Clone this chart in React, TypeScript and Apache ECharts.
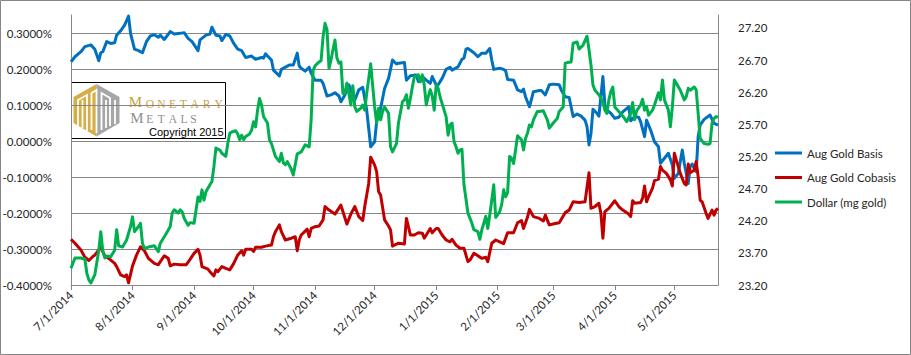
import React, { useEffect, useRef } from 'react';
import * as echarts from 'echarts';

const seriesNames = ['Aug Gold Basis', 'Aug Gold Cobasis', 'Dollar (mg gold)'];
const seriesColors = ['#0070C0', '#C00000', '#00B050'];
const leftAxis = { min: -0.4, max: 0.35, step: 0.1, lastLabel: 0.3 };
const rightAxis = { min: 23.2, max: 27.4, step: 0.5, lastLabel: 27.2 };
const monthTicks = ['2014-07-01', '2014-08-01', '2014-09-01', '2014-10-01', '2014-11-01', '2014-12-01',
  '2015-01-01', '2015-02-01', '2015-03-01', '2015-04-01', '2015-05-01'];
const xRange = ['2014-07-01', '2015-05-23'];

// Aug Gold Basis (%)
const basis: [string, number][] = [
  ['2014-07-01', 0.220], ['2014-07-03', 0.234], ['2014-07-06', 0.248], ['2014-07-08', 0.262], ['2014-07-11', 0.267],
  ['2014-07-13', 0.255], ['2014-07-15', 0.223], ['2014-07-16', 0.245], ['2014-07-17', 0.248], ['2014-07-19', 0.276],
  ['2014-07-21', 0.271], ['2014-07-23', 0.273], ['2014-07-24', 0.294], ['2014-07-26', 0.306], ['2014-07-28', 0.322],
  ['2014-07-30', 0.347], ['2014-07-31', 0.299], ['2014-08-02', 0.255], ['2014-08-04', 0.251], ['2014-08-06', 0.245],
  ['2014-08-08', 0.276], ['2014-08-10', 0.292], ['2014-08-12', 0.295], ['2014-08-14', 0.288], ['2014-08-15', 0.294],
  ['2014-08-17', 0.282], ['2014-08-20', 0.304], ['2014-08-22', 0.297], ['2014-08-25', 0.299], ['2014-08-27', 0.301],
  ['2014-08-29', 0.285], ['2014-08-31', 0.276], ['2014-09-03', 0.251], ['2014-09-04', 0.281], ['2014-09-07', 0.294],
  ['2014-09-09', 0.297], ['2014-09-10', 0.316], ['2014-09-12', 0.294], ['2014-09-14', 0.292], ['2014-09-15', 0.279],
  ['2014-09-17', 0.296], ['2014-09-19', 0.292], ['2014-09-21', 0.271], ['2014-09-23', 0.255], ['2014-09-25', 0.251],
  ['2014-09-27', 0.232], ['2014-09-30', 0.236], ['2014-10-02', 0.227], ['2014-10-05', 0.232], ['2014-10-06', 0.230],
  ['2014-10-07', 0.242], ['2014-10-10', 0.225], ['2014-10-11', 0.197], ['2014-10-14', 0.181], ['2014-10-15', 0.199],
  ['2014-10-18', 0.208], ['2014-10-19', 0.211], ['2014-10-21', 0.211], ['2014-10-23', 0.244], ['2014-10-24', 0.208],
  ['2014-10-25', 0.202], ['2014-10-27', 0.194], ['2014-10-29', 0.205], ['2014-10-30', 0.188], ['2014-11-01', 0.169],
  ['2014-11-04', 0.169], ['2014-11-05', 0.160], ['2014-11-07', 0.125], ['2014-11-09', 0.128], ['2014-11-11', 0.134],
  ['2014-11-13', 0.125], ['2014-11-14', 0.109], ['2014-11-16', 0.128], ['2014-11-18', 0.156], ['2014-11-20', 0.125],
  ['2014-11-21', 0.114], ['2014-11-23', 0.142], ['2014-11-25', 0.149], ['2014-11-27', 0.086], ['2014-11-29', -0.016],
  ['2014-12-01', -0.002], ['2014-12-02', 0.054], ['2014-12-04', 0.091], ['2014-12-06', 0.146], ['2014-12-08', 0.174],
  ['2014-12-10', 0.225], ['2014-12-12', 0.214], ['2014-12-13', 0.216], ['2014-12-16', 0.218], ['2014-12-17', 0.169],
  ['2014-12-19', 0.181], ['2014-12-21', 0.183], ['2014-12-22', 0.183], ['2014-12-23', 0.165], ['2014-12-25', 0.179],
  ['2014-12-27', 0.169], ['2014-12-29', 0.160], ['2014-12-30', 0.179], ['2015-01-01', 0.156], ['2015-01-02', 0.156],
  ['2015-01-04', 0.174], ['2015-01-06', 0.199], ['2015-01-08', 0.205], ['2015-01-09', 0.197], ['2015-01-12', 0.206],
  ['2015-01-14', 0.227], ['2015-01-15', 0.230], ['2015-01-16', 0.255], ['2015-01-17', 0.257], ['2015-01-20', 0.245],
  ['2015-01-22', 0.234], ['2015-01-24', 0.244], ['2015-01-26', 0.244], ['2015-01-28', 0.257], ['2015-01-29', 0.225],
  ['2015-01-30', 0.199], ['2015-02-02', 0.202], ['2015-02-04', 0.199], ['2015-02-05', 0.195], ['2015-02-06', 0.171],
  ['2015-02-09', 0.169], ['2015-02-11', 0.142], ['2015-02-13', 0.137], ['2015-02-14', 0.144], ['2015-02-15', 0.123],
  ['2015-02-17', 0.095], ['2015-02-19', 0.137], ['2015-02-22', 0.140], ['2015-02-23', 0.140], ['2015-02-25', 0.128],
  ['2015-02-27', 0.156], ['2015-03-01', 0.158], ['2015-03-04', 0.156], ['2015-03-05', 0.142], ['2015-03-07', 0.123],
  ['2015-03-09', 0.121], ['2015-03-11', 0.068], ['2015-03-13', 0.075], ['2015-03-15', 0.069], ['2015-03-17', 0.058],
  ['2015-03-18', 0.040], ['2015-03-19', -0.011], ['2015-03-20', 0.021], ['2015-03-21', 0.088], ['2015-03-23', 0.077],
  ['2015-03-24', 0.069], ['2015-03-26', 0.179], ['2015-03-27', 0.100], ['2015-03-28', 0.086], ['2015-03-30', 0.077],
  ['2015-04-01', 0.063], ['2015-04-03', 0.066], ['2015-04-05', 0.081], ['2015-04-08', 0.095], ['2015-04-09', 0.056],
  ['2015-04-11', 0.067], ['2015-04-13', 0.066], ['2015-04-14', 0.054], ['2015-04-16', 0.012], ['2015-04-17', 0.058],
  ['2015-04-19', 0.031], ['2015-04-21', -0.002], ['2015-04-23', -0.016], ['2015-04-24', -0.062], ['2015-04-26', -0.048],
  ['2015-04-28', -0.034], ['2015-04-30', -0.067], ['2015-05-01', -0.104], ['2015-05-03', -0.090], ['2015-05-04', -0.057],
  ['2015-05-05', -0.025], ['2015-05-06', -0.062], ['2015-05-08', -0.118], ['2015-05-09', -0.071], ['2015-05-10', -0.064],
  ['2015-05-11', -0.076], ['2015-05-12', -0.085], ['2015-05-13', 0.012], ['2015-05-14', 0.044], ['2015-05-16', 0.060],
  ['2015-05-19', 0.072], ['2015-05-21', 0.049], ['2015-05-23', 0.044],
];

// Aug Gold Cobasis (%)
const cobasis: [string, number][] = [
  ['2014-07-01', -0.273], ['2014-07-03', -0.284], ['2014-07-06', -0.303], ['2014-07-08', -0.323], ['2014-07-10', -0.332],
  ['2014-07-12', -0.321], ['2014-07-13', -0.317], ['2014-07-16', -0.295], ['2014-07-18', -0.319], ['2014-07-20', -0.326],
  ['2014-07-23', -0.340], ['2014-07-24', -0.349], ['2014-07-26', -0.372], ['2014-07-28', -0.377], ['2014-07-29', -0.372],
  ['2014-07-30', -0.394], ['2014-08-01', -0.347], ['2014-08-03', -0.317], ['2014-08-05', -0.294], ['2014-08-07', -0.305],
  ['2014-08-09', -0.326], ['2014-08-12', -0.340], ['2014-08-14', -0.344], ['2014-08-15', -0.335], ['2014-08-17', -0.319],
  ['2014-08-19', -0.326], ['2014-08-20', -0.347], ['2014-08-22', -0.342], ['2014-08-25', -0.344], ['2014-08-28', -0.344],
  ['2014-08-30', -0.329], ['2014-09-01', -0.312], ['2014-09-03', -0.301], ['2014-09-04', -0.317], ['2014-09-05', -0.349],
  ['2014-09-08', -0.356], ['2014-09-09', -0.363], ['2014-09-11', -0.375], ['2014-09-12', -0.358], ['2014-09-13', -0.363],
  ['2014-09-15', -0.349], ['2014-09-17', -0.354], ['2014-09-19', -0.358], ['2014-09-21', -0.340], ['2014-09-23', -0.317],
  ['2014-09-25', -0.305], ['2014-09-26', -0.317], ['2014-09-27', -0.301], ['2014-09-30', -0.301], ['2014-10-01', -0.307],
  ['2014-10-02', -0.295], ['2014-10-05', -0.295], ['2014-10-07', -0.292], ['2014-10-10', -0.289], ['2014-10-11', -0.266],
  ['2014-10-12', -0.252], ['2014-10-14', -0.233], ['2014-10-15', -0.252], ['2014-10-17', -0.275], ['2014-10-20', -0.270],
  ['2014-10-22', -0.266], ['2014-10-23', -0.305], ['2014-10-24', -0.275], ['2014-10-25', -0.261], ['2014-10-28', -0.245],
  ['2014-10-29', -0.266], ['2014-10-30', -0.243], ['2014-11-01', -0.238], ['2014-11-03', -0.236], ['2014-11-05', -0.219],
  ['2014-11-06', -0.182], ['2014-11-08', -0.192], ['2014-11-11', -0.203], ['2014-11-14', -0.178], ['2014-11-15', -0.196],
  ['2014-11-17', -0.231], ['2014-11-19', -0.203], ['2014-11-21', -0.182], ['2014-11-23', -0.210], ['2014-11-25', -0.221],
  ['2014-11-26', -0.182], ['2014-11-28', -0.118], ['2014-11-29', -0.045], ['2014-12-01', -0.067], ['2014-12-02', -0.085],
  ['2014-12-03', -0.141], ['2014-12-04', -0.150], ['2014-12-06', -0.219], ['2014-12-08', -0.236], ['2014-12-09', -0.247],
  ['2014-12-10', -0.292], ['2014-12-11', -0.289], ['2014-12-13', -0.284], ['2014-12-16', -0.286], ['2014-12-17', -0.215],
  ['2014-12-19', -0.261], ['2014-12-21', -0.261], ['2014-12-23', -0.255], ['2014-12-25', -0.256], ['2014-12-26', -0.270],
  ['2014-12-29', -0.243], ['2014-12-30', -0.255], ['2015-01-01', -0.243], ['2015-01-02', -0.243], ['2015-01-04', -0.261],
  ['2015-01-06', -0.275], ['2015-01-08', -0.280], ['2015-01-09', -0.273], ['2015-01-11', -0.289], ['2015-01-13', -0.298],
  ['2015-01-15', -0.298], ['2015-01-17', -0.335], ['2015-01-18', -0.331], ['2015-01-20', -0.312], ['2015-01-22', -0.319],
  ['2015-01-24', -0.326], ['2015-01-26', -0.323], ['2015-01-27', -0.335], ['2015-01-29', -0.284], ['2015-01-31', -0.275],
  ['2015-02-02', -0.280], ['2015-02-04', -0.285], ['2015-02-06', -0.255], ['2015-02-09', -0.255], ['2015-02-11', -0.227],
  ['2015-02-13', -0.221], ['2015-02-14', -0.243], ['2015-02-16', -0.212], ['2015-02-17', -0.190], ['2015-02-19', -0.210],
  ['2015-02-22', -0.215], ['2015-02-24', -0.222], ['2015-02-25', -0.206], ['2015-02-27', -0.233], ['2015-03-02', -0.229],
  ['2015-03-04', -0.227], ['2015-03-07', -0.199], ['2015-03-09', -0.192], ['2015-03-11', -0.169], ['2015-03-14', -0.171],
  ['2015-03-17', -0.169], ['2015-03-19', -0.088], ['2015-03-20', -0.187], ['2015-03-22', -0.182], ['2015-03-24', -0.173],
  ['2015-03-25', -0.201], ['2015-03-26', -0.270], ['2015-03-27', -0.196], ['2015-03-29', -0.187], ['2015-03-31', -0.173],
  ['2015-04-01', -0.166], ['2015-04-03', -0.182], ['2015-04-05', -0.192], ['2015-04-08', -0.203], ['2015-04-09', -0.210],
  ['2015-04-10', -0.166], ['2015-04-11', -0.173], ['2015-04-14', -0.171], ['2015-04-15', -0.159], ['2015-04-16', -0.125],
  ['2015-04-17', -0.169], ['2015-04-18', -0.155], ['2015-04-20', -0.131], ['2015-04-21', -0.110], ['2015-04-23', -0.106],
  ['2015-04-24', -0.071], ['2015-04-25', -0.081], ['2015-04-27', -0.090], ['2015-04-29', -0.108], ['2015-04-30', -0.125],
  ['2015-05-01', -0.034], ['2015-05-02', -0.053], ['2015-05-04', -0.090], ['2015-05-06', -0.118], ['2015-05-07', -0.122],
  ['2015-05-08', -0.064], ['2015-05-09', -0.088], ['2015-05-11', -0.081], ['2015-05-12', -0.057], ['2015-05-13', -0.099],
  ['2015-05-14', -0.164], ['2015-05-15', -0.169], ['2015-05-17', -0.201], ['2015-05-18', -0.215], ['2015-05-20', -0.192],
  ['2015-05-21', -0.206], ['2015-05-22', -0.192], ['2015-05-23', -0.187],
];

// Dollar (mg gold), right axis
const dollar: [string, number][] = [
  ['2014-07-01', 23.46], ['2014-07-03', 23.62], ['2014-07-06', 23.62], ['2014-07-08', 23.60], ['2014-07-09', 23.38],
  ['2014-07-10', 23.28], ['2014-07-11', 23.23], ['2014-07-13', 23.36], ['2014-07-15', 23.74], ['2014-07-16', 24.03],
  ['2014-07-17', 23.74], ['2014-07-18', 23.62], ['2014-07-19', 23.65], ['2014-07-21', 23.64], ['2014-07-23', 23.74],
  ['2014-07-24', 24.06], ['2014-07-25', 23.81], ['2014-07-27', 23.79], ['2014-07-29', 23.90], ['2014-07-31', 24.11],
  ['2014-08-01', 24.26], ['2014-08-02', 24.03], ['2014-08-04', 24.11], ['2014-08-05', 24.16], ['2014-08-06', 23.85],
  ['2014-08-07', 23.77], ['2014-08-09', 23.79], ['2014-08-12', 23.81], ['2014-08-14', 23.72], ['2014-08-15', 23.85],
  ['2014-08-18', 24.00], ['2014-08-20', 24.11], ['2014-08-21', 24.32], ['2014-08-22', 24.37], ['2014-08-24', 24.32],
  ['2014-08-25', 24.37], ['2014-08-26', 24.34], ['2014-08-27', 24.24], ['2014-08-29', 24.13], ['2014-08-30', 24.17],
  ['2014-09-01', 24.16], ['2014-09-03', 24.57], ['2014-09-04', 24.50], ['2014-09-05', 24.68], ['2014-09-06', 24.52],
  ['2014-09-07', 24.65], ['2014-09-09', 24.76], ['2014-09-10', 24.81], ['2014-09-11', 25.04], ['2014-09-12', 25.33],
  ['2014-09-14', 25.30], ['2014-09-15', 25.25], ['2014-09-17', 25.20], ['2014-09-18', 25.40], ['2014-09-19', 25.56],
  ['2014-09-20', 25.58], ['2014-09-22', 25.60], ['2014-09-23', 25.55], ['2014-09-24', 25.46], ['2014-09-25', 25.53],
  ['2014-09-26', 25.46], ['2014-09-27', 25.51], ['2014-09-29', 25.55], ['2014-09-30', 25.61], ['2014-10-01', 25.74],
  ['2014-10-02', 25.66], ['2014-10-03', 25.92], ['2014-10-04', 26.10], ['2014-10-05', 26.00], ['2014-10-06', 25.82],
  ['2014-10-08', 25.72], ['2014-10-09', 25.46], ['2014-10-10', 25.40], ['2014-10-12', 25.20], ['2014-10-14', 25.12],
  ['2014-10-15', 25.25], ['2014-10-16', 25.10], ['2014-10-17', 25.07], ['2014-10-18', 25.12], ['2014-10-20', 25.00],
  ['2014-10-21', 24.91], ['2014-10-23', 25.24], ['2014-10-25', 25.27], ['2014-10-27', 25.38], ['2014-10-29', 25.35],
  ['2014-10-30', 25.77], ['2014-10-31', 26.54], ['2014-11-01', 26.61], ['2014-11-03', 26.67], ['2014-11-04', 26.69],
  ['2014-11-05', 27.06], ['2014-11-06', 27.27], ['2014-11-07', 27.17], ['2014-11-08', 26.57], ['2014-11-09', 26.70],
  ['2014-11-10', 26.86], ['2014-11-11', 27.01], ['2014-11-12', 26.73], ['2014-11-13', 26.65], ['2014-11-14', 26.67],
  ['2014-11-15', 26.18], ['2014-11-16', 26.18], ['2014-11-17', 26.34], ['2014-11-18', 26.18], ['2014-11-19', 26.00],
  ['2014-11-20', 26.30], ['2014-11-21', 25.97], ['2014-11-22', 25.90], ['2014-11-24', 25.95], ['2014-11-25', 26.00],
  ['2014-11-26', 25.92], ['2014-11-27', 26.18], ['2014-11-29', 26.64], ['2014-11-30', 26.30], ['2014-12-01', 25.97],
  ['2014-12-02', 25.72], ['2014-12-03', 25.95], ['2014-12-04', 25.77], ['2014-12-05', 25.90], ['2014-12-06', 25.97],
  ['2014-12-08', 25.87], ['2014-12-09', 25.35], ['2014-12-10', 25.27], ['2014-12-12', 25.40], ['2014-12-13', 25.72],
  ['2014-12-15', 26.05], ['2014-12-16', 26.08], ['2014-12-17', 26.16], ['2014-12-18', 25.95], ['2014-12-19', 26.10],
  ['2014-12-20', 26.28], ['2014-12-21', 26.44], ['2014-12-23', 26.47], ['2014-12-24', 26.36], ['2014-12-25', 26.47],
  ['2014-12-26', 26.31], ['2014-12-27', 26.00], ['2014-12-28', 26.13], ['2014-12-29', 26.24], ['2014-12-30', 26.14],
  ['2014-12-31', 25.92], ['2015-01-01', 26.31], ['2015-01-02', 26.26], ['2015-01-03', 26.12], ['2015-01-05', 25.92],
  ['2015-01-06', 25.82], ['2015-01-07', 25.53], ['2015-01-08', 25.69], ['2015-01-09', 25.72], ['2015-01-10', 25.43],
  ['2015-01-11', 25.35], ['2015-01-12', 25.25], ['2015-01-13', 25.30], ['2015-01-14', 25.31], ['2015-01-15', 24.76],
  ['2015-01-17', 24.32], ['2015-01-18', 24.24], ['2015-01-19', 24.16], ['2015-01-20', 24.06], ['2015-01-22', 24.03],
  ['2015-01-23', 23.91], ['2015-01-24', 24.06], ['2015-01-25', 24.16], ['2015-01-26', 24.27], ['2015-01-27', 24.08],
  ['2015-01-28', 24.29], ['2015-01-29', 24.52], ['2015-01-30', 24.76], ['2015-01-31', 24.25], ['2015-02-02', 24.34],
  ['2015-02-03', 24.45], ['2015-02-04', 24.68], ['2015-02-05', 24.57], ['2015-02-06', 24.64], ['2015-02-07', 25.20],
  ['2015-02-08', 25.17], ['2015-02-09', 25.09], ['2015-02-10', 25.30], ['2015-02-11', 25.52], ['2015-02-13', 25.46],
  ['2015-02-14', 25.30], ['2015-02-15', 25.48], ['2015-02-16', 25.56], ['2015-02-17', 25.69], ['2015-02-18', 25.66],
  ['2015-02-19', 25.77], ['2015-02-21', 25.90], ['2015-02-22', 25.90], ['2015-02-24', 25.91], ['2015-02-26', 25.77],
  ['2015-02-27', 25.64], ['2015-03-01', 25.72], ['2015-03-03', 25.79], ['2015-03-04', 25.90], ['2015-03-06', 25.97],
  ['2015-03-07', 26.65], ['2015-03-08', 26.66], ['2015-03-10', 26.67], ['2015-03-11', 26.96], ['2015-03-13', 26.98],
  ['2015-03-14', 26.87], ['2015-03-15', 26.90], ['2015-03-16', 26.93], ['2015-03-18', 27.07], ['2015-03-19', 26.86],
  ['2015-03-20', 26.62], ['2015-03-21', 26.31], ['2015-03-22', 26.23], ['2015-03-24', 26.16], ['2015-03-26', 26.05],
  ['2015-03-27', 25.92], ['2015-03-28', 25.87], ['2015-03-29', 26.08], ['2015-03-30', 26.21], ['2015-03-31', 26.28],
  ['2015-04-01', 25.97], ['2015-04-03', 25.90], ['2015-04-05', 25.83], ['2015-04-07', 25.74], ['2015-04-09', 25.87],
  ['2015-04-10', 26.04], ['2015-04-11', 25.77], ['2015-04-12', 25.91], ['2015-04-14', 26.00], ['2015-04-15', 26.09],
  ['2015-04-16', 25.92], ['2015-04-17', 25.98], ['2015-04-18', 25.84], ['2015-04-20', 25.92], ['2015-04-21', 26.00],
  ['2015-04-23', 26.19], ['2015-04-24', 26.08], ['2015-04-25', 26.39], ['2015-04-26', 26.08], ['2015-04-28', 25.92],
  ['2015-04-29', 25.66], ['2015-04-30', 25.97], ['2015-05-01', 26.39], ['2015-05-02', 26.34], ['2015-05-04', 26.23],
  ['2015-05-06', 26.08], ['2015-05-07', 26.13], ['2015-05-08', 26.26], ['2015-05-09', 26.23], ['2015-05-11', 26.28],
  ['2015-05-12', 26.24], ['2015-05-13', 25.87], ['2015-05-14', 25.48], ['2015-05-16', 25.40], ['2015-05-18', 25.39],
  ['2015-05-19', 25.40], ['2015-05-20', 25.72], ['2015-05-21', 25.79], ['2015-05-22', 25.82], ['2015-05-23', 25.81],
];

const logoLine1 = 'MONETARY';
const logoLine2 = 'METALS';
const copyrightText = 'Copyright 2015';

const ts = (s: string) => {
  const [y, m, d] = s.split('-').map(Number);
  return new Date(y, m - 1, d).getTime();
};
const fmtDate = (v: number) => {
  const d = new Date(v);
  return `${d.getMonth() + 1}/${d.getDate()}/${d.getFullYear()}`;
};

const FONT = 'Lato, "Open Sans", sans-serif';
const AXIS_GRAY = '#878787';
const TEXT = '#262626';

function smallCaps(word: string, centers: number[], baseline: number, color: string) {
  return word.split('').map((ch, i) => {
    const size = i === 0 ? 15 : 11.5;
    return {
      type: 'text',
      x: centers[i],
      y: baseline - size * 0.34,
      style: {
        text: ch,
        fill: color,
        font: `${size}px "Liberation Serif", "DejaVu Serif", serif`,
        align: 'center',
        verticalAlign: 'middle',
        lineHeight: 10,
      },
    };
  });
}

export default function App() {
  const ref = useRef<HTMLDivElement>(null);
  useEffect(() => {
    if (!ref.current) return;
    const chart = echarts.init(ref.current, undefined, { renderer: 'svg' });
    const gold = '#D5AE45';
    const grey = '#A6A6A6';
    const monthValues = monthTicks.map(ts);
    const option: any = {
      animation: false,
      backgroundColor: '#ffffff',
      grid: { left: 71, top: 15, width: 647, height: 270, outerBoundsMode: 'none' },
      legend: {
        orient: 'vertical',
        left: 770,
        top: 142,
        icon: 'rect',
        itemWidth: 27,
        itemHeight: 3,
        itemGap: 12.5,
        data: seriesNames,
        textStyle: { fontFamily: FONT, fontSize: 11.5, color: TEXT },
      },
      xAxis: {
        type: 'value',
        min: ts(xRange[0]),
        max: ts(xRange[1]),
        axisLine: { show: true, onZero: false, lineStyle: { color: AXIS_GRAY, width: 1 } },
        axisTick: { show: true, length: 5, lineStyle: { color: AXIS_GRAY }, customValues: monthValues },
        axisLabel: {
          customValues: monthValues,
          formatter: (v: number) => fmtDate(v),
          rotate: 45,
          margin: 8,
          fontFamily: FONT,
          fontSize: 11.5,
          color: TEXT,
          hideOverlap: false,
        },
        splitLine: { show: false },
      },
      yAxis: [
        {
          type: 'value',
          min: leftAxis.min,
          max: leftAxis.max,
          interval: leftAxis.step,
          axisLine: { show: true, lineStyle: { color: AXIS_GRAY, width: 1 } },
          axisTick: { show: false },
          axisLabel: {
            formatter: (v: number) => (v > leftAxis.lastLabel + 1e-6 ? '' : v.toFixed(4) + '%'),
            margin: 12,
            padding: [0, 7, 0, 0],
            fontFamily: FONT,
            fontSize: 11.5,
            color: TEXT,
            showMaxLabel: false,
          },
          splitLine: { show: true, showMaxLine: false, lineStyle: { color: AXIS_GRAY, width: 1 } },
        },
        {
          type: 'value',
          min: rightAxis.min,
          max: rightAxis.max,
          interval: rightAxis.step,
          position: 'right',
          axisLine: { show: true, lineStyle: { color: AXIS_GRAY, width: 1 } },
          axisTick: { show: false },
          axisLabel: {
            formatter: (v: number) => (v > rightAxis.lastLabel + 1e-6 ? '' : v.toFixed(2)),
            margin: 12,
            padding: [0, 0, 0, 8],
            fontFamily: FONT,
            fontSize: 11.5,
            color: TEXT,
            showMaxLabel: false,
          },
          splitLine: { show: false },
        },
      ],
      series: [basis, cobasis, dollar].map((data, i) => ({
        name: seriesNames[i],
        type: 'line',
        yAxisIndex: i === 2 ? 1 : 0,
        data: data.map(([d, v]) => [ts(d), v]),
        symbol: 'none',
        showSymbol: false,
        color: seriesColors[i],
        lineStyle: { color: seriesColors[i], width: 3, join: 'round' },
        z: 2 + i,
      })),
      graphic: [
        {
          type: 'rect',
          shape: { x: 0.5, y: 0.5, width: 910, height: 354 },
          style: { fill: 'none', stroke: '#868686', lineWidth: 1 },
          silent: true,
        },
        {
          type: 'group',
          z: 100,
          children: [
            {
              type: 'rect',
              shape: { x: 71.5, y: 82.5, width: 154, height: 56 },
              style: { fill: '#ffffff', stroke: '#000000', lineWidth: 1 },
            },
            {
              type: 'polygon',
              shape: { points: [[96.5, 84], [73.5, 97], [73.5, 123], [96.5, 136.5]] },
              style: { fill: gold },
            },
            {
              type: 'polygon',
              shape: { points: [[96.5, 84], [119.5, 97], [119.5, 123], [96.5, 136.5]] },
              style: { fill: grey },
            },
            {
              type: 'polyline',
              shape: { points: [[78, 126], [78, 100], [87, 95], [87, 131]] },
              style: { stroke: '#ffffff', lineWidth: 1.8, fill: 'none' },
            },
            {
              type: 'polyline',
              shape: { points: [[82.5, 128], [82.5, 100]] },
              style: { stroke: '#ffffff', lineWidth: 1.8, fill: 'none' },
            },
            {
              type: 'polyline',
              shape: { points: [[91.5, 130], [91.5, 93], [96.5, 90], [96.5, 133]] },
              style: { stroke: '#ffffff', lineWidth: 1.8, fill: 'none' },
            },
            {
              type: 'polyline',
              shape: { points: [[101.5, 130], [101.5, 93], [110, 98], [110, 126]] },
              style: { stroke: '#ffffff', lineWidth: 1.8, fill: 'none' },
            },
            {
              type: 'polyline',
              shape: { points: [[106, 128], [106, 100]] },
              style: { stroke: '#ffffff', lineWidth: 1.8, fill: 'none' },
            },
            {
              type: 'polyline',
              shape: { points: [[115, 124], [115, 100]] },
              style: { stroke: '#ffffff', lineWidth: 1.8, fill: 'none' },
            },
            ...smallCaps(logoLine1, [135.5, 150, 161.3, 172.5, 183.3, 194.7, 206.7, 218.7], 107.5, '#C9A23C'),
            ...smallCaps(logoLine2, [137, 149.7, 161.3, 172.8, 184, 193.5], 123.3, '#8E8E8E'),
            {
              type: 'text',
              x: 149,
              y: 131.5,
              style: {
                text: copyrightText,
                fill: '#000000',
                font: '11px "Liberation Sans", Arial, sans-serif',
                align: 'left',
                verticalAlign: 'middle',
                lineHeight: 11,
              },
            },
          ],
        },
      ],
    };
    chart.setOption(option);
    return () => chart.dispose();
  }, []);
  return (
    <div
      ref={ref}
      style={{ position: 'fixed', left: 0, top: 0, width: 911, height: 355, background: '#fff' }}
    />
  );
}
